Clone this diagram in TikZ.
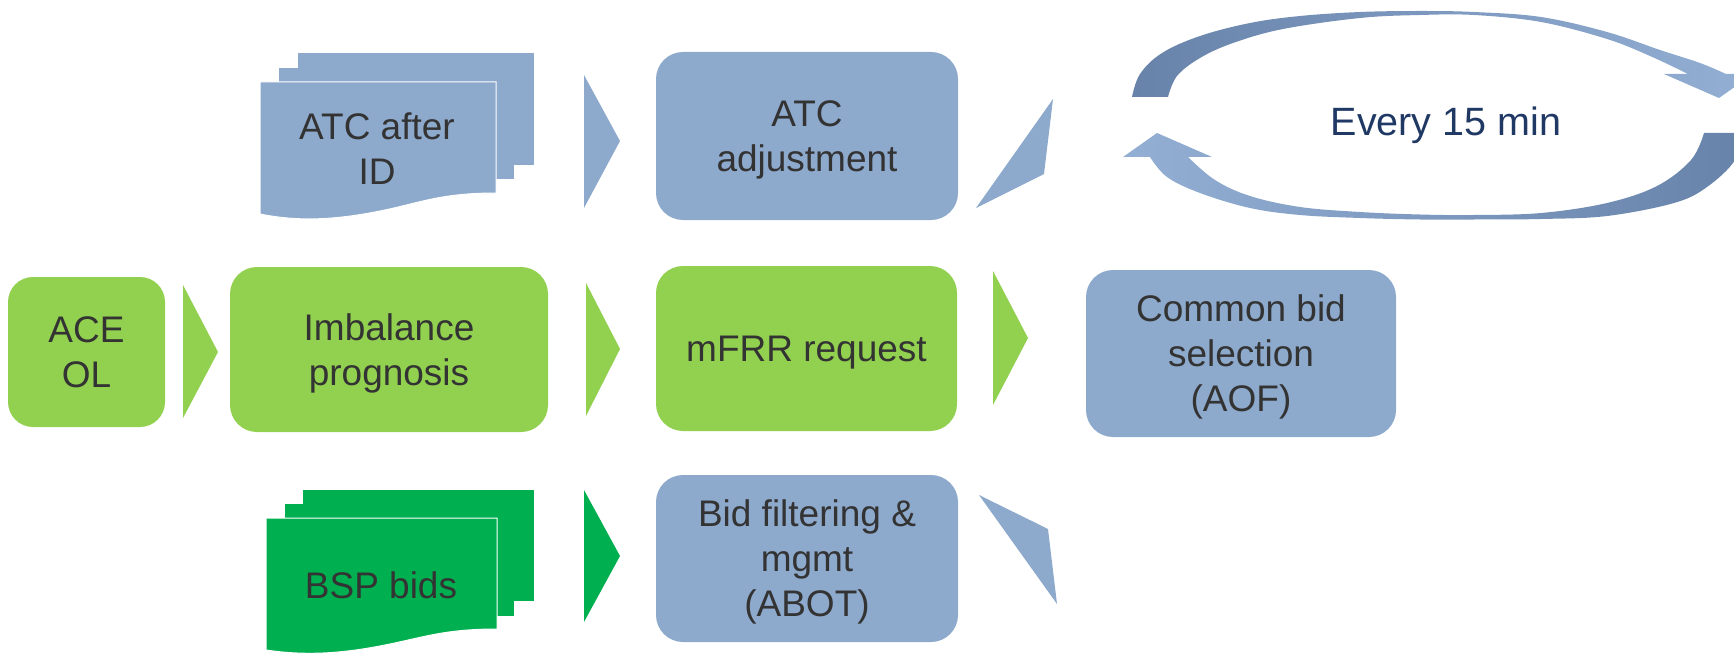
\documentclass[tikz,border=0pt]{standalone}
\usepackage{fontspec}
\setmainfont{Liberation Sans}
\definecolor{bluebox}{RGB}{141,169,204}
\definecolor{lgreen}{RGB}{146,208,80}
\definecolor{dgreen}{RGB}{0,176,80}
\definecolor{txt}{RGB}{51,51,51}
\definecolor{navy}{RGB}{31,56,100}
\definecolor{arcdark}{RGB}{104,131,170}
\definecolor{arclight}{RGB}{148,175,212}
\newcommand\bxfont{\fontsize{37}{43.5}\selectfont}
\newcommand\cs{\rule[-0.234em]{0pt}{1.184em}}
\begin{document}
\begin{tikzpicture}[x=1pt,y=-1pt,
  box/.style={rectangle, rounded corners=27pt, inner sep=0pt, align=center, font=\bxfont, text=txt},
  bluebx/.style={box, fill=bluebox},
  greenbx/.style={box, fill=lgreen},
  doctext/.style={inner sep=0pt, align=center, font=\bxfont, text=txt},
  frontdoc/.style={draw=white, line width=1pt},
]
\useasboundingbox (0,0) rectangle (1734,655);
\clip (0,0) rectangle (1734,655);

% ---- boxes
\node[greenbx, minimum width=157pt, minimum height=150pt, rounded corners=25pt] (ace) at (86.5,352) {\cs ACE\\\cs OL};
\node[greenbx, minimum width=318pt, minimum height=165pt] (imb) at (389,349.5) {\cs Imbalance\\\cs prognosis};
\node[greenbx, minimum width=301pt, minimum height=165pt] (mfrr) at (806.5,348.5) {\cs mFRR request};
\node[bluebx, minimum width=310pt, minimum height=167pt] (cbs) at (1241,353.5) {\cs Common bid\\\cs selection\\\cs (AOF)};
\node[bluebx, minimum width=302pt, minimum height=168pt] (atc) at (807,136) {\cs ATC\\\cs adjustment};
\node[bluebx, minimum width=302pt, minimum height=167pt] (bid) at (807,558.5) {\cs Bid filtering \&\\\cs mgmt\\\cs (ABOT)};

% ---- chevrons
\fill[lgreen] (183,285) -- (218,352) -- (183,418) -- cycle;
\fill[lgreen] (586,283) -- (620,349) -- (586,416) -- cycle;
\fill[lgreen] (993,271) -- (1028,338) -- (993,405) -- cycle;
\fill[bluebox] (584,75) -- (620,141) -- (584,208) -- cycle;
\fill[dgreen] (584,490) -- (620,556) -- (584,622) -- cycle;
\fill[bluebox] (1053,99) -- (1044,174) -- (976,208) -- cycle;
\fill[bluebox] (979,495) -- (1048,529) -- (1057,604) -- cycle;

% ---- multi-documents: ATC after ID
\fill[bluebox] (298,53) rectangle (534,165);
\fill[bluebox] (279,68) rectangle (514,179);
\path[fill=bluebox, frontdoc] (260,82) -- (496,82) -- (496,193)
  .. controls (440,193) and (420,203) .. (380,211)
  .. controls (330,221) and (295,221) .. (260,214) -- cycle;
\node[doctext] (atcid) at (377,148.5) {\cs ATC after\\\cs ID};

% ---- multi-documents: BSP bids
\fill[dgreen] (303,490) rectangle (534,601);
\fill[dgreen] (285,504) rectangle (514,616);
\path[fill=dgreen, frontdoc] (266,518) -- (497,518) -- (497,629)
  .. controls (445,629) and (425,637) .. (385,645)
  .. controls (335,655) and (300,655) .. (266,650) -- cycle;
\node[doctext] (bsp) at (381,585) {\cs BSP bids};

% ---- cycle arrows
\shade[left color=arcdark, right color=arclight]
  plot[smooth, tension=0.6] coordinates {(1132,97) (1140,74) (1162,53) (1200,36) (1250,23) (1300,16) (1360,12) (1420,11) (1474,12) (1541,17) (1607,32) (1660,50) (1700,63) (1726,74)}
  -- (1753,74) -- (1719,98) -- (1664,74) -- (1688,74)
  -- plot[smooth, tension=0.6] coordinates {(1688,74) (1650,56) (1607,39) (1541,22) (1474,15) (1420,15) (1360,18) (1283,29) (1233,43) (1200,58) (1177,76) (1168,97)}
  -- cycle;
\shade[left color=arclight, right color=arcdark]
  plot[smooth, tension=0.6] coordinates {(1740,133) (1735,160) (1707,187) (1674,203) (1607,216) (1541,219) (1474,219.5) (1420,219.5) (1360,218) (1300,215) (1250,208) (1200,193) (1167,177) (1150,157)}
  -- (1123,157) -- (1157,133) -- (1212,157) -- (1188,157)
  -- plot[smooth, tension=0.6] coordinates {(1188,157) (1215,180) (1250,196) (1300,207) (1360,212) (1420,214.5) (1474,215) (1541,213) (1607,203) (1657,186) (1691,160) (1704,133)}
  -- cycle;
\node[inner sep=0pt, font=\fontsize{39.5}{45}\selectfont, text=navy] (every) at (1446,121) {\cs Every 15 min};
\end{tikzpicture}
\end{document}
